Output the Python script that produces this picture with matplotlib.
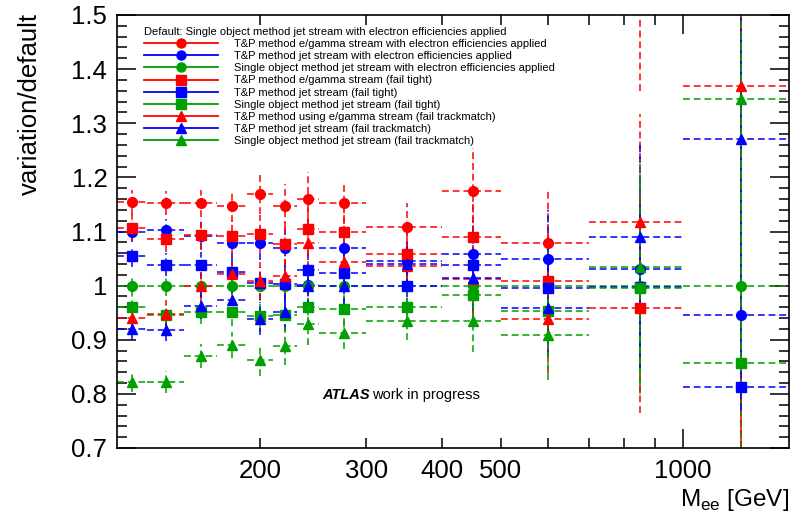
import numpy as np
import matplotlib
matplotlib.use("Agg")
import matplotlib.pyplot as plt
from matplotlib.lines import Line2D
from matplotlib.ticker import FixedLocator, FixedFormatter, MultipleLocator

plt.rcParams['font.family'] = ['Liberation Sans', 'DejaVu Sans']

# ---------------- data ----------------
bin_edges = [116, 130, 150, 170, 190, 210, 230, 250, 300, 400, 500, 700, 1000, 1500]

labels = [
    "T&P method e/gamma stream with electron efficiencies applied",
    "T&P method jet stream with electron efficiencies applied",
    "Single object method jet stream with electron efficiencies applied",
    "T&P method e/gamma stream (fail tight)",
    "T&P method jet stream (fail tight)",
    "Single object method jet stream (fail tight)",
    "T&P method using e/gamma stream (fail trackmatch)",
    "T&P method jet stream (fail trackmatch)",
    "Single object method jet stream (fail trackmatch)",
]
header = "Default: Single object method jet stream with electron efficiencies applied"

red_circle = [1.154, 1.152, 1.152, 1.147, 1.170, 1.147, 1.160, 1.153, 1.109, 1.175, 1.079, 1.60, 1.70]
blue_circle = [1.100, 1.102, 1.092, 1.078, 1.078, 1.070, 1.002, 1.069, 1.045, 1.059, 1.049, 1.030, 0.946]
green_circle = [1.0, 1.0, 1.0, 1.0, 1.0, 1.0, 1.0, 1.0, 1.0, 1.0, 1.0, 1.0, 1.0]
red_square = [1.107, 1.087, 1.093, 1.091, 1.096, 1.077, 1.104, 1.099, 1.059, 1.089, 1.009, 0.959, 0.55]
blue_square = [1.054, 1.039, 1.038, 1.025, 1.004, 1.003, 1.028, 1.023, 0.999, 1.039, 0.996, 0.998, 0.812]
green_square = [0.960, 0.946, 0.952, 0.951, 0.943, 0.946, 0.961, 0.957, 0.961, 0.983, 0.954, 0.996, 0.857]
red_triangle = [0.940, 0.948, 1.000, 1.022, 1.009, 1.017, 1.078, 1.043, 1.036, 1.012, 0.939, 1.117, 1.368]
blue_triangle = [0.920, 0.918, 0.963, 0.974, 0.939, 0.951, 1.000, 0.999, 1.040, 1.015, 0.959, 1.089, 1.270]
green_triangle = [0.822, 0.822, 0.870, 0.891, 0.862, 0.888, 0.930, 0.912, 0.935, 0.934, 0.909, 1.034, 1.344]

red_circle_err = [0.023, 0.022, 0.025, 0.030, 0.037, 0.040, 0.050, 0.040, 0.044, 0.080, 0.096, 0.24, 1.0]
blue_circle_err = [0.020, 0.022, 0.025, 0.028, 0.030, 0.035, 0.040, 0.035, 0.040, 0.060, 0.090, 0.15, 0.6]
green_circle_err = [0.020, 0.020, 0.022, 0.025, 0.028, 0.030, 0.035, 0.030, 0.035, 0.050, 0.080, 0.20, 0.6]
red_square_err = [0.025, 0.025, 0.028, 0.030, 0.035, 0.040, 0.045, 0.040, 0.045, 0.070, 0.100, 0.195, 1.0]
blue_square_err = [0.020, 0.022, 0.025, 0.028, 0.030, 0.035, 0.040, 0.035, 0.040, 0.060, 0.090, 0.15, 0.01]
green_square_err = [0.020, 0.020, 0.022, 0.025, 0.028, 0.030, 0.035, 0.030, 0.035, 0.050, 0.080, 0.18, 0.6]
red_triangle_err = [0.025, 0.025, 0.028, 0.030, 0.035, 0.040, 0.045, 0.040, 0.045, 0.070, 0.100, 0.20, 0.8]
blue_triangle_err = [0.020, 0.021, 0.025, 0.028, 0.030, 0.035, 0.040, 0.035, 0.040, 0.060, 0.090, 0.178, 0.5]
green_triangle_err = [0.018, 0.020, 0.022, 0.024, 0.029, 0.035, 0.040, 0.030, 0.036, 0.056, 0.084, 0.20, 0.5]

series = [
    (red_circle, red_circle_err),
    (blue_circle, blue_circle_err),
    (green_circle, green_circle_err),
    (red_square, red_square_err),
    (blue_square, blue_square_err),
    (green_square, green_square_err),
    (red_triangle, red_triangle_err),
    (blue_triangle, blue_triangle_err),
    (green_triangle, green_triangle_err),
]
colors = ['#ff0000', '#0000ff', '#00a000'] * 3
markers = ['o'] * 3 + ['s'] * 3 + ['^'] * 3

# ---------------- figure ----------------
W, H = 792, 522
fig = plt.figure(figsize=(W / 100, H / 100), dpi=100)
ax = fig.add_axes([117 / W, 1 - 448 / H, (789 - 117) / W, (448 - 15) / H])

edges = np.array(bin_edges, dtype=float)
xc = 0.5 * (edges[:-1] + edges[1:])
xlo = xc - edges[:-1]
xhi = edges[1:] - xc

dash = (0, (4.5, 2.5))
for (vals, errs), c, m in zip(series, colors, markers):
    eb = ax.errorbar(xc, vals, yerr=errs, xerr=[xlo, xhi], fmt=m, color=c,
                     ms=7 if m != '^' else 7.5, mec=c, mfc=c, elinewidth=1.1,
                     capsize=0, ls='none')
    for lc in eb[2]:
        lc.set_linestyle(dash)

ax.set_xscale('log')
ax.set_xlim(116, 1500)
ax.set_ylim(0.7, 1.5)

# x ticks
ax.xaxis.set_major_locator(FixedLocator([200, 300, 400, 500, 1000]))
ax.xaxis.set_major_formatter(FixedFormatter(['200', '300', '400', '500', '1000']))
ax.xaxis.set_minor_locator(FixedLocator([600, 700, 800, 900]))
ax.xaxis.set_minor_formatter(FixedFormatter(['', '', '', '']))
ax.tick_params(axis='x', which='both', direction='in', top=True, bottom=True,
               length=7, width=1.1, labelsize=18.5, pad=8)
xt = ax.xaxis.get_major_ticks()[-1]
xt.tick1line.set_markersize(14)
xt.tick2line.set_markersize(14)

# y ticks
ax.yaxis.set_major_locator(MultipleLocator(0.1))
ax.yaxis.set_minor_locator(MultipleLocator(0.02))
ax.yaxis.set_major_formatter(plt.FuncFormatter(lambda v, p: '%g' % round(v, 2)))
ax.tick_params(axis='y', which='major', direction='in', left=True, right=True,
               length=14, width=1.1, labelsize=18.5, pad=7)
ax.tick_params(axis='y', which='minor', direction='in', left=True, right=True,
               length=7, width=1.1)

for s in ax.spines.values():
    s.set_linewidth(1.2)

fig.text(30 / W, 1 - 13 / H, 'variation/default', rotation=90, ha='center',
         va='top', fontsize=18.5)
fig.text(789 / W, 1 - 506 / H, r'M$_{\mathregular{ee}}$ [GeV]', ha='right',
         va='baseline', fontsize=17.5)

ax.text(322 / W, 1 - 395 / H, 'ATLAS', transform=fig.transFigure,
        fontsize=10.5, style='italic', fontweight='bold', va='center', ha='left')
ax.text(372 / W, 1 - 395 / H, 'work in progress', transform=fig.transFigure,
        fontsize=10.5, va='center', ha='left')

handles = [Line2D([0], [0], color=c, marker=m, ms=6.5, lw=1.3)
           for c, m in zip(colors, markers)]
leg = ax.legend(handles, labels, title=header, loc='upper left',
                bbox_to_anchor=(144 / W, 1 - 27 / H),
                bbox_transform=fig.transFigure, frameon=False, fontsize=8,
                title_fontsize=8, handlelength=6.7, handletextpad=1.4,
                labelspacing=0.19, borderpad=0, borderaxespad=0,
                alignment='left', markerfirst=True)

fig.savefig('out.png', dpi=100)
